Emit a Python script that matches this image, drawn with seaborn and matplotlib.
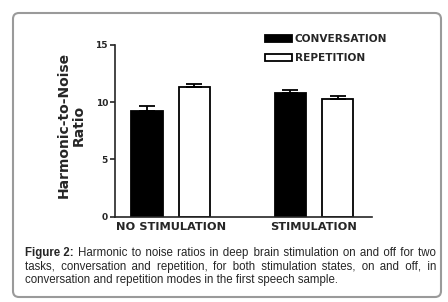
import numpy as np
import pandas as pd
import seaborn as sns
import matplotlib.pyplot as plt
from matplotlib.patches import FancyBboxPatch
from matplotlib.transforms import IdentityTransform

# ================= Data ================= #
states = ['NO STIMULATION', 'STIMULATION']
tasks = ['CONVERSATION', 'REPETITION']
hnr_conversation = [9.2, 10.75]
hnr_repetition = [11.3, 10.25]
sem_conversation = [0.42, 0.32]
sem_repetition = [0.28, 0.3]

df = pd.DataFrame({
    'state': states * 2,
    'task': [tasks[0]] * 2 + [tasks[1]] * 2,
    'hnr': hnr_conversation + hnr_repetition,
    'sem': sem_conversation + sem_repetition,
})

# ================= Figure ================= #
W, H = 448, 302
sns.set_style('ticks')
plt.rcParams['font.family'] = ['DejaVu Sans']
fig = plt.figure(figsize=(W / 100, H / 100), dpi=100)
ax = fig.add_axes([115 / W, 1 - 216.7 / H, (372 - 115) / W, (216.7 - 44.7) / H])

sns.barplot(data=df, x='state', y='hnr', hue='task', hue_order=tasks, order=states,
            palette={'CONVERSATION': 'black', 'REPETITION': 'white'},
            edgecolor='black', linewidth=1.3, width=0.66, gap=0.33,
            errorbar=None, ax=ax)

# upper-only error bars at each bar centre
for cont, t in zip(ax.containers, tasks):
    sub = df[df['task'] == t].set_index('state').loc[states]
    xs = [b.get_x() + b.get_width() / 2 for b in cont]
    ax.errorbar(xs, sub['hnr'], yerr=[np.zeros(len(xs)), sub['sem']], fmt='none',
                ecolor='black', elinewidth=1.3, capsize=5.5, capthick=1.3, zorder=1)

ax.set_ylim(0, 15)
ax.set_yticks([0, 5, 10, 15])
ax.set_xlim(-0.39, 1.405)
sns.despine(ax=ax)
for s in ['left', 'bottom']:
    ax.spines[s].set_linewidth(1.2)
ax.tick_params(axis='y', length=3.6, width=1.2, pad=1.5, labelsize=6.5)
ax.tick_params(axis='x', length=0, pad=4, labelsize=8.2)
for lab in ax.get_xticklabels() + ax.get_yticklabels():
    lab.set_fontweight('bold')
ax.set_xlabel('')
ax.set_ylabel('Harmonic-to-Noise\nRatio', fontsize=10, fontweight='bold', linespacing=1.1)
ax.yaxis.set_label_coords(-0.171, 0.532)
ax.yaxis.label.set_verticalalignment('center')

leg = ax.legend(loc='upper left', bbox_to_anchor=(265 / W, 1 - 34.5 / H),
                bbox_transform=fig.transFigure, frameon=False, fontsize=7.6,
                handlelength=2.6, handleheight=0.65, handletextpad=0.2,
                labelspacing=0.85, borderpad=0, borderaxespad=0)
for txt in leg.get_texts():
    txt.set_fontweight('bold')

# ================= Caption (justified) ================= #
renderer = fig.canvas.get_renderer()
cap_font = ['Liberation Sans', 'DejaVu Sans']
cap_size = 8.3
x0, x1 = 25, 436


def measure(s, wt='normal'):
    t = fig.text(0, 0, s, fontsize=cap_size, family=cap_font, fontweight=wt)
    w = t.get_window_extent(renderer).width
    t.remove()
    return w


space_w = measure('a a') - measure('aa')
pad_ch = '\u200a'
pad_w = measure('a' + pad_ch + 'a') - measure('aa')
if pad_w < 0.5:
    pad_ch = '\u2009'
    pad_w = measure('a' + pad_ch + 'a') - measure('aa')


def justify(words, avail):
    # one string per line; extra room goes into hair spaces after each space
    n = len(words) - 1
    extra = (avail - measure(' '.join(words))) / n
    out, acc = words[0], 0.0
    for w in words[1:]:
        acc += extra
        k = max(int(round(acc / pad_w)), 0)
        acc -= k * pad_w
        out += ' ' + pad_ch * k + w
    return out


head = 'Figure 2:'
rest1 = 'Harmonic to noise ratios in deep brain stimulation on and off for two'.split()
line2 = 'tasks, conversation and repetition, for both stimulation states, on and off, in'.split()
line3 = 'conversation and repetition modes in the first speech sample.'

head_w = measure(head, 'bold')
# gap after the bold head equals the other justified gaps
n1 = len(rest1)
gap1 = (x1 - x0 - head_w - measure(' '.join(rest1)) + (n1 - 1) * space_w) / n1
kw = dict(fontsize=cap_size, family=cap_font, va='baseline', ha='left',
          transform=IdentityTransform())
fig.text(x0, H - 256, head, fontweight='bold', **kw)
start1 = round(x0 + head_w + gap1)
fig.text(start1, H - 256, justify(rest1, x1 - start1), **kw)
fig.text(x0, H - 270, justify(line2, x1 - x0), **kw)
fig.text(x0, H - 283, line3, **kw)

# rounded frame
box = FancyBboxPatch((13, H - 297), 428, 284, boxstyle='round,pad=0,rounding_size=6',
                     transform=IdentityTransform(), fill=False, edgecolor='#9a9a9a',
                     linewidth=1.5, figure=fig)
fig.patches.append(box)

fig.savefig('out.png', dpi=100)
